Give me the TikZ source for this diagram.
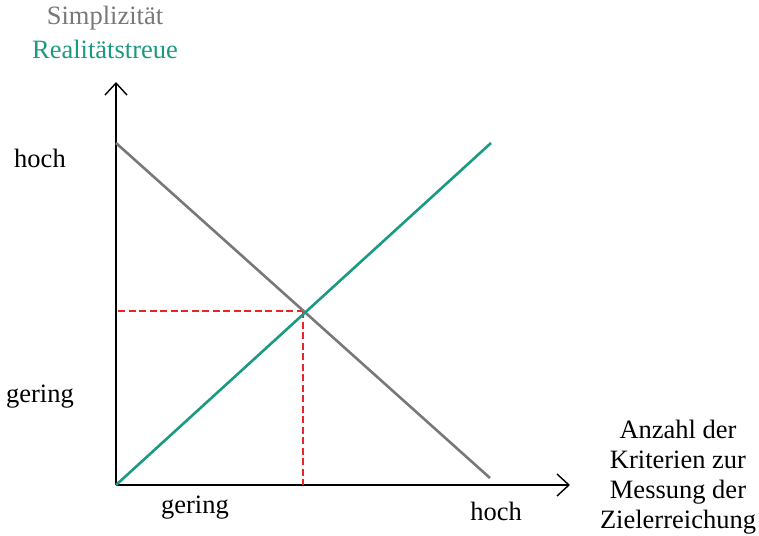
\documentclass[tikz,border=0pt]{standalone}
\usepackage{fontspec}
\setmainfont{Liberation Serif}
\usetikzlibrary{arrows.meta}
\definecolor{tealc}{HTML}{1A9A80}
\definecolor{grayc}{HTML}{787878}
\definecolor{redc}{HTML}{E8262A}
\begin{document}
\begin{tikzpicture}[x=1pt,y=-1pt,
  axis/.style={line width=1.4pt, -{Straight Barb[length=12pt,width=22pt,line width=1.4pt]}},
  lbl/.style={inner sep=0pt, font=\fontsize{26.5}{30}\selectfont},
  guide/.style={redc, line width=1.6pt, dash pattern=on 7pt off 3.5pt}]
\useasboundingbox (0,0) rectangle (759,535);
\coordinate (O) at (116,485);
\coordinate (ytip) at (116,82);
\coordinate (xtip) at (570,485);
\coordinate (g1) at (116,143);
\coordinate (g2) at (490,478);
\coordinate (t2) at (491,143);
\coordinate (P) at (303,311);
\coordinate (Py) at (118,311);
\coordinate (Px) at (303,485);
\draw[axis] (O) -- (ytip);
\draw[axis] (O) -- (xtip);
\draw[guide] (Py) -- (P);
\draw[guide] (P) -- (Px);
\draw[grayc, line width=2.6pt] (g1) -- (g2);
\draw[tealc, line width=2.6pt] (O) -- (t2);
\node[lbl, text=grayc] (simp) at (105,18) {Simplizität};
\node[lbl, text=tealc] (real) at (105,49) {Realitätstreue};
\node[lbl] (yhoch) at (40,158) {hoch};
\node[lbl] (ygering) at (40,397) {gering};
\node[lbl] (xgering) at (195,508) {gering};
\node[lbl] (xhoch) at (496,511) {hoch};
\node[lbl, align=center] (xlab) at (678,477) {Anzahl der\\Kriterien zur\\Messung der\\Zielerreichung};
\end{tikzpicture}
\end{document}
